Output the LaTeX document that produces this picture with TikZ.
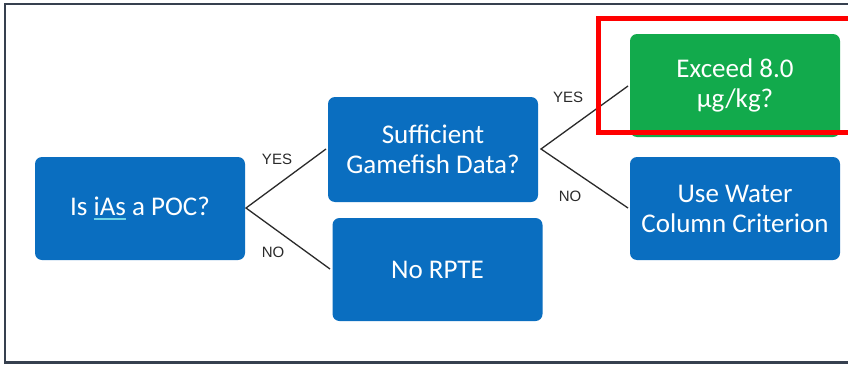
\documentclass[tikz,border=0pt]{standalone}
\usepackage{fontspec}
\setmainfont{Carlito}
\newfontfamily\lblfont{Liberation Sans}
\definecolor{boxblue}{HTML}{0A6EC0}
\definecolor{boxgreen}{HTML}{12AA4C}
\definecolor{framec}{HTML}{36404F}
\definecolor{ulc}{HTML}{6FD3E6}
\definecolor{linec}{HTML}{2A2A2A}
\newcommand\spellul[1]{{\setbox0\hbox{#1}\rlap{\color{ulc}\rule[-4pt]{\wd0}{1.3pt}}\box0}}
\tikzset{
  decbox/.style={rectangle, rounded corners=7pt, fill=boxblue, text=white,
    font=\fontsize{27}{30}\selectfont, align=center, inner sep=0pt,
    minimum width=210pt, minimum height=103pt},
  greenbox/.style={decbox, fill=boxgreen},
  branch/.style={draw=linec, line width=1.3pt},
  lbl/.style={font=\lblfont\fontsize{15}{17}\selectfont, text=linec, inner sep=0pt}
}
\begin{document}
\begin{tikzpicture}[x=1pt,y=-1pt]
\useasboundingbox (0,0) rectangle (848,364);
\fill[white] (0,0) rectangle (848,364);
% frame
\draw[framec, line width=2.2pt] (5,362.5) -- (5,4) -- (848,4);
\draw[framec, line width=2.2pt] (4,362.5) -- (848,362.5);
% boxes
\node[decbox] (poc) at (140,208.5) {Is \spellul{iAs} a POC?};
\node[decbox, minimum height=105pt] (suff) at (433,149.5) {Sufficient\\Gamefish Data?};
\node[decbox] (norpte) at (437.5,269.5) {No RPTE};
\node[greenbox] (exceed) at (735,85.5) {Exceed 8.0\\µg/kg?};
\node[decbox] (water) at (735,208.5) {Use Water\\Column Criterion};
% connectors
\coordinate (j1) at (246,208);
\coordinate (y1) at (326,149);
\coordinate (n1) at (330,269);
\coordinate (j2) at (541,149);
\coordinate (y2) at (628,86);
\coordinate (n2) at (628,208);
\draw[branch] (y1) -- (j1) -- (n1);
\draw[branch] (y2) -- (j2) -- (n2);
\node[lbl] (lyes1) at (277,159) {YES};
\node[lbl] (lno1) at (273,252) {NO};
\node[lbl] (lyes2) at (568,97) {YES};
\node[lbl] (lno2) at (570,196) {NO};
% highlight
\draw[red, line width=5pt] (850,18) -- (598.5,18) -- (598.5,132.5) -- (850,132.5);
\end{tikzpicture}
\end{document}
